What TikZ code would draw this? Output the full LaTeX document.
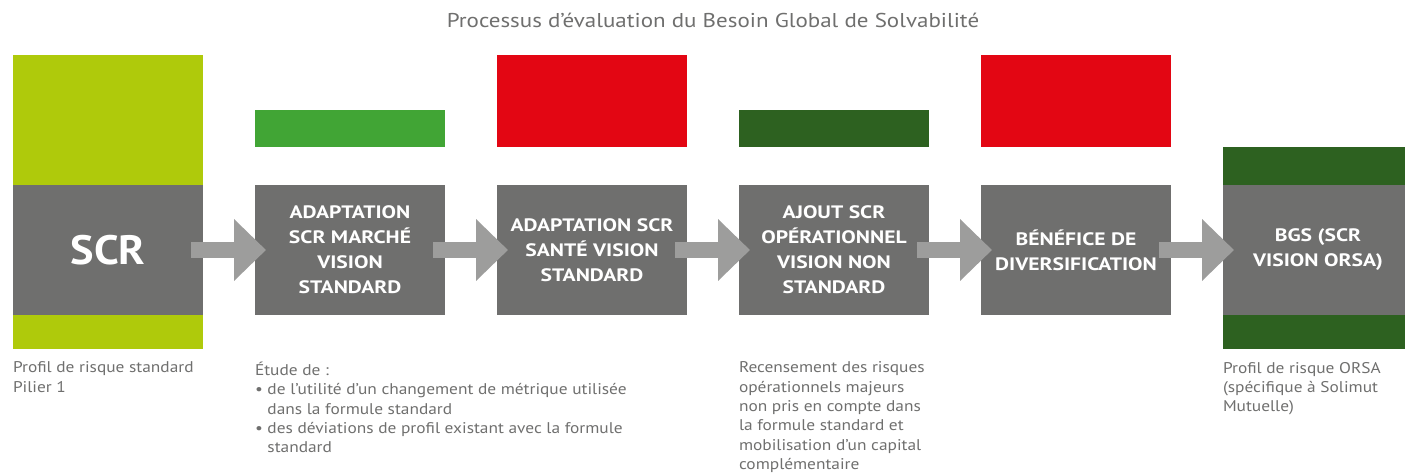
\documentclass[tikz,border=0pt]{standalone}
\usepackage{fontspec}
\setmainfont{PT Sans}
\usetikzlibrary{arrows.meta,positioning}
\definecolor{boxgray}{RGB}{111,111,110}
\definecolor{arrowgray}{RGB}{157,157,156}
\definecolor{lime}{RGB}{175,202,11}
\definecolor{midgreen}{RGB}{65,165,53}
\definecolor{darkgreen}{RGB}{45,97,32}
\definecolor{redbar}{RGB}{227,6,19}

\begin{document}
\begin{tikzpicture}[x=1pt, y=-1pt,
    every node/.style={inner sep=0pt, outer sep=0pt},
    box/.style={fill=boxgray, text=white, minimum width=190pt, minimum height=130pt,
      align=center, font=\fontsize{18}{25}\selectfont\bfseries\addfontfeature{FakeStretch=1.2}},
    bar/.style={minimum width=190pt},
    note/.style={text=boxgray, align=left, anchor=north west,
      font=\fontsize{15.5}{19.3}\selectfont\addfontfeature{FakeStretch=1.12}},
    flow/.style={draw=arrowgray, line width=16pt, -{Triangle[length=32pt,width=60pt]},
      shorten <=-12pt, shorten >=-11pt}]
  \useasboundingbox (0,0) rectangle (1405,473);
  \clip (0,0) rectangle (1405,473);
  % title
  \node[text=boxgray, font=\fontsize{20}{22}\selectfont\addfontfeature{FakeStretch=1.15}] (title)
    at (713,20) {Processus d'évaluation du Besoin Global de Solvabilité};
  % the six steps
  \node[box] (scr) at (108,250)
    {\fontsize{41}{41}\selectfont\addfontfeature{FakeStretch=1.08}SCR};
  \node[box, right=52pt of scr] (marche) {ADAPTATION\\SCR MARCHÉ\\VISION\\STANDARD};
  \node[box, right=52pt of marche] (sante) {ADAPTATION SCR\\SANTÉ VISION\\STANDARD};
  \node[box, right=52pt of sante] (oper) {AJOUT SCR\\OPÉRATIONNEL\\VISION NON\\STANDARD};
  \node[box, right=52pt of oper] (diversif) {BÉNÉFICE DE\\DIVERSIFICATION};
  \node[box, right=52pt of diversif] (bgs) {BGS (SCR\\VISION ORSA)};
  % colour bars
  \node[bar, fill=lime, minimum height=130pt, above=0pt of scr] (scrtop) {};
  \node[bar, fill=lime, minimum height=34pt, below=0pt of scr] (scrbot) {};
  \node[bar, fill=midgreen, minimum height=37pt, above=38pt of marche] (marchebar) {};
  \node[bar, fill=redbar, minimum height=92pt, above=38pt of sante] (santebar) {};
  \node[bar, fill=darkgreen, minimum height=37pt, above=38pt of oper] (operbar) {};
  \node[bar, fill=redbar, minimum height=92pt, above=38pt of diversif] (diversifbar) {};
  \node[bar, fill=darkgreen, minimum height=38pt, above=0pt of bgs] (bgstop) {};
  \node[bar, fill=darkgreen, minimum height=34pt, below=0pt of bgs] (bgsbot) {};
  % arrows
  \foreach \a/\b in {scr/marche, marche/sante, sante/oper, oper/diversif, diversif/bgs}
    \draw[flow] (\a) -- (\b);
  % notes below
  \node[note, below=47pt of scr.south west, anchor=north west] (scrnote)
    {Profil de risque standard\\Pilier 1};
  \node[note, below=47pt of marche.south west, anchor=north west] (marchenote)
    {Étude de :\\
     \textbullet\ de l'utilité d'un changement de métrique utilisée\\
     \hphantom{\textbullet\ }dans la formule standard\\
     \textbullet\ des déviations de profil existant avec la formule\\
     \hphantom{\textbullet\ }standard};
  \node[note, below=47pt of oper.south west, anchor=north west] (opernote)
    {Recensement des risques\\opérationnels majeurs\\non pris en compte dans\\
     la formule standard et\\mobilisation d'un capital\\complémentaire};
  \node[note, below=47pt of bgs.south west, anchor=north west] (bgsnote)
    {Profil de risque ORSA\\(spécifique à Solimut\\Mutuelle)};
\end{tikzpicture}
\end{document}
